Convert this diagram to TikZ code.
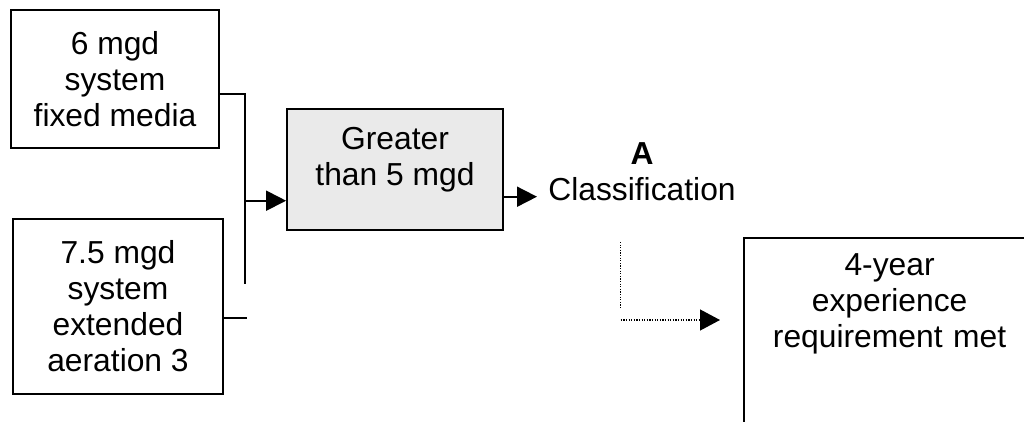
\documentclass[tikz,border=0pt]{standalone}
\usepackage{fontspec}
\setmainfont{Liberation Sans}
\usetikzlibrary{arrows.meta}
\definecolor{boxgray}{RGB}{234,234,234}
\begin{document}
\begin{tikzpicture}[x=1pt,y=1pt,node distance=100pt,font=\fontsize{31.8}{36}\selectfont]
\tikzstyle{sizebox} = [rectangle, draw=black, line width=1.8pt, align=center]
\tikzstyle{rangebox} = [rectangle, draw=black, line width=1.8pt, fill=boxgray, align=center, minimum width=216pt, inner ysep=18pt, text depth=26pt]
\tikzstyle{plain} = [align=center]
\tikzstyle{arrow} = [line width=1.8pt, -{Triangle[length=20pt,width=20pt]}]
\tikzstyle{dottline} = [line width=1.2pt, dash pattern=on 1.2pt off 1.4pt]
\tikzstyle{dottarrow} = [dottline, -{Triangle[length=20pt,width=21pt]}]
\tikzstyle{noarrow} = [line width=1.8pt]

\useasboundingbox (0,0) rectangle (1024,421);
\clip (0,0) rectangle (1024,421);

%nodes
\node (sixmgd) [sizebox, minimum width=208pt, minimum height=138pt] at (115,342) {6 mgd\\system\\fixed media};
\node (sevenmgd) [sizebox, minimum width=210pt, minimum height=175pt, below of=sixmgd, xshift=3pt, yshift=-127.5pt] {7.5 mgd\\system\\extended\\aeration 3};
\node (greater) [rangebox, right of=sixmgd, xshift=180pt, yshift=-90.5pt] {Greater\\than 5 mgd};
\node (class) [plain, right of=greater, xshift=147pt, yshift=-2pt] {\textbf{A}\\Classification};
\node (met) [sizebox, anchor=north west, text width=292pt, inner xsep=0pt, inner ysep=16pt, text depth=260pt] at (742.7,184.3) {4-year\\experience\\requirement met};

%free ends
\coordinate (jtop) at (245,327);
\coordinate (jmid) at (245,220.3);
\coordinate (jbot) at (245,137);
\coordinate (stub) at (247,103);
\coordinate (outA) at (537,224.3);
\coordinate (dtop) at (620.7,179);
\coordinate (dbot) at (620.7,112);
\coordinate (dcorner) at (620.7,101);
\coordinate (dtip) at (720,101);

%arrows
\draw [noarrow] (sixmgd.east |- jtop) -- (jtop) -- (jbot);
\draw [noarrow] (sevenmgd.east |- stub) -- (stub);
\draw [arrow] (jmid) -- (jmid -| greater.west);
\draw [arrow] (greater.east |- outA) -- (outA);
\draw [dottline] (dtop) -- (dbot);
\draw [dottarrow] (dcorner) -- (dtip);
\end{tikzpicture}
\end{document}
